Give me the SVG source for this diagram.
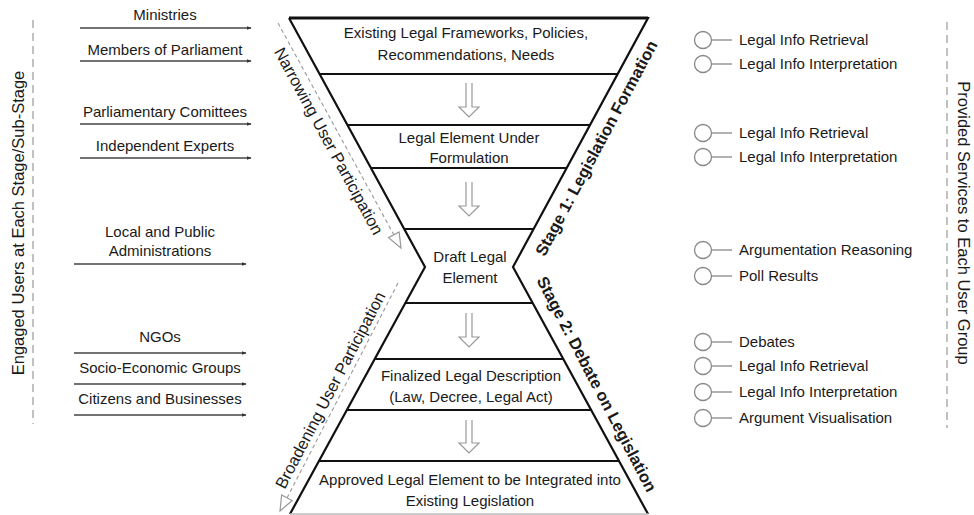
<svg xmlns="http://www.w3.org/2000/svg" width="974" height="515" viewBox="0 0 974 515">
<defs>
<marker id="ah" viewBox="0 0 10 10" refX="9" refY="5" markerWidth="5" markerHeight="5" markerUnits="userSpaceOnUse" orient="auto"><path d="M0,1 L10,5 L0,9 Z" fill="#333"/></marker>
<style>
text{font-family:"Liberation Sans",Arial,sans-serif;fill:#1a1a1a}
.t{font-size:15px;text-anchor:middle}
.s{font-size:15px}
.big{font-size:16.5px;text-anchor:middle;dominant-baseline:central}
.bold{font-weight:bold}
.edge{stroke:#111;stroke-width:2.2;fill:none}
.band{stroke:#111;stroke-width:2.2}
.hol{stroke:#999;stroke-width:1.2;fill:#fff}
.dash{stroke:#999;stroke-width:1.1;stroke-dasharray:4 3;fill:none}
.usr{stroke:#444;stroke-width:1.5;marker-end:url(#ah)}
.circ{stroke:#888;stroke-width:1.3;fill:#fff}
.side{stroke:#999;stroke-width:1.2;stroke-dasharray:8 5}
</style>
</defs>
<rect width="974" height="515" fill="#fff"/>

<g id="side-labels">
<line class="side" x1="33" y1="20" x2="33" y2="424"/>
<text class="big" transform="translate(18,223) rotate(-90)">Engaged Users at Each Stage/Sub-Stage</text>
<line class="side" x1="947" y1="22" x2="947" y2="428"/>
<text class="big" transform="translate(964,223) rotate(90)">Provided Services to Each User Group</text>
</g>

<g id="hourglass">
<path class="edge" d="M289,18 L648,18 L513,267 L648,514 M290,514 L425,267 L289,18"/>
<line x1="289" y1="18" x2="648" y2="18" stroke="#111" stroke-width="3"/>
<line x1="290" y1="514" x2="648" y2="514" stroke="#bbb" stroke-width="1.5"/>
<line class="band" x1="319.6" y1="74" x2="617.6" y2="74"/>
<line class="band" x1="347.4" y1="125" x2="590" y2="125"/>
<line class="band" x1="370.9" y1="168" x2="566.7" y2="168"/>
<line class="band" x1="404.2" y1="229" x2="533.6" y2="229"/>
<line class="band" x1="405.3" y1="303" x2="532.7" y2="303"/>
<line class="band" x1="374.7" y1="359" x2="563.3" y2="359"/>
<line class="band" x1="346.8" y1="410" x2="591.2" y2="410"/>
<line class="band" x1="318.9" y1="461" x2="619" y2="461"/>
</g>

<g id="stage-existing">
<text class="t" x="466" y="38">Existing Legal Frameworks, Policies,</text>
<text class="t" x="466" y="60">Recommendations, Needs</text>
</g>
<g id="stage-formulation">
<text class="t" x="469" y="143">Legal Element Under</text>
<text class="t" x="469" y="163">Formulation</text>
</g>
<g id="stage-draft">
<text class="t" x="470" y="262">Draft Legal</text>
<text class="t" x="470" y="283">Element</text>
</g>
<g id="stage-finalized">
<text class="t" x="471" y="381">Finalized Legal Description</text>
<text class="t" x="471" y="402">(Law, Decree, Legal Act)</text>
</g>
<g id="stage-approved">
<text class="t" x="470" y="485">Approved Legal Element to be Integrated into</text>
<text class="t" x="470" y="506">Existing Legislation</text>
</g>

<g id="flow-arrows">
<path class="hol" d="M466,83 V107 H459 L469,117 L479,107 H472 V83"/>
<path class="hol" d="M466,182 V206 H459 L469,216 L479,206 H472 V182"/>
<path class="hol" d="M466,313 V337 H459 L469,347 L479,337 H472 V313"/>
<path class="hol" d="M466,420 V443 H459 L469,453 L479,443 H472 V420"/>
</g>

<g id="participation">
<line class="dash" x1="278" y1="23" x2="394" y2="235"/>
<path class="hol" d="M399.1,231.9 L401,248 L388.5,237.7 Z"/>
<text class="big" transform="translate(329,141) rotate(61.5)">Narrowing User Participation</text>
<line class="dash" x1="398" y1="283" x2="287" y2="498"/>
<path class="hol" d="M292.2,500.5 L280,511 L281.6,494.9 Z"/>
<text class="big" transform="translate(330,390) rotate(-62.5)">Broadening User Participation</text>
</g>

<g id="stage-labels">
<text class="big bold" transform="translate(596,148) rotate(-62)">Stage 1: Legislation Formation</text>
<text class="big bold" transform="translate(597,384) rotate(62.5)">Stage 2: Debate on Legislation</text>
</g>

<g id="users">
<text class="t" x="165" y="20">Ministries</text>
<line class="usr" x1="80" y1="28" x2="251" y2="28"/>
<text class="t" x="165" y="55">Members of Parliament</text>
<line class="usr" x1="80" y1="61" x2="251" y2="61"/>
<text class="t" x="165" y="117">Parliamentary Comittees</text>
<line class="usr" x1="80" y1="124" x2="251" y2="124"/>
<text class="t" x="165" y="151">Independent Experts</text>
<line class="usr" x1="80" y1="158" x2="251" y2="158"/>
<text class="t" x="160" y="237">Local and Public</text>
<text class="t" x="160" y="256">Administrations</text>
<line class="usr" x1="74" y1="264" x2="246" y2="264"/>
<text class="t" x="160" y="342">NGOs</text>
<line class="usr" x1="74" y1="353" x2="246" y2="353"/>
<text class="t" x="160" y="373">Socio-Economic Groups</text>
<line class="usr" x1="74" y1="384" x2="246" y2="384"/>
<text class="t" x="160" y="404">Citizens and Businesses</text>
<line class="usr" x1="74" y1="415" x2="246" y2="415"/>
</g>

<g id="services">
<g id="svc-1">
<circle class="circ" cx="703" cy="40" r="8.5"/><line x1="711.5" y1="40" x2="732" y2="40" stroke="#888" stroke-width="1.3"/>
<text class="s" x="739" y="45">Legal Info Retrieval</text>
<circle class="circ" cx="703" cy="64" r="8.5"/><line x1="711.5" y1="64" x2="732" y2="64" stroke="#888" stroke-width="1.3"/>
<text class="s" x="739" y="69">Legal Info Interpretation</text>
</g>
<g id="svc-2">
<circle class="circ" cx="703" cy="133" r="8.5"/><line x1="711.5" y1="133" x2="732" y2="133" stroke="#888" stroke-width="1.3"/>
<text class="s" x="739" y="138">Legal Info Retrieval</text>
<circle class="circ" cx="703" cy="157" r="8.5"/><line x1="711.5" y1="157" x2="732" y2="157" stroke="#888" stroke-width="1.3"/>
<text class="s" x="739" y="162">Legal Info Interpretation</text>
</g>
<g id="svc-3">
<circle class="circ" cx="703" cy="250" r="8.5"/><line x1="711.5" y1="250" x2="732" y2="250" stroke="#888" stroke-width="1.3"/>
<text class="s" x="739" y="255">Argumentation Reasoning</text>
<circle class="circ" cx="703" cy="276" r="8.5"/><line x1="711.5" y1="276" x2="732" y2="276" stroke="#888" stroke-width="1.3"/>
<text class="s" x="739" y="281">Poll Results</text>
</g>
<g id="svc-4">
<circle class="circ" cx="703" cy="342" r="8.5"/><line x1="711.5" y1="342" x2="732" y2="342" stroke="#888" stroke-width="1.3"/>
<text class="s" x="739" y="347">Debates</text>
<circle class="circ" cx="703" cy="366" r="8.5"/><line x1="711.5" y1="366" x2="732" y2="366" stroke="#888" stroke-width="1.3"/>
<text class="s" x="739" y="371">Legal Info Retrieval</text>
<circle class="circ" cx="703" cy="392" r="8.5"/><line x1="711.5" y1="392" x2="732" y2="392" stroke="#888" stroke-width="1.3"/>
<text class="s" x="739" y="397">Legal Info Interpretation</text>
<circle class="circ" cx="703" cy="418" r="8.5"/><line x1="711.5" y1="418" x2="732" y2="418" stroke="#888" stroke-width="1.3"/>
<text class="s" x="739" y="423">Argument Visualisation</text>
</g>
</g>
</svg>
